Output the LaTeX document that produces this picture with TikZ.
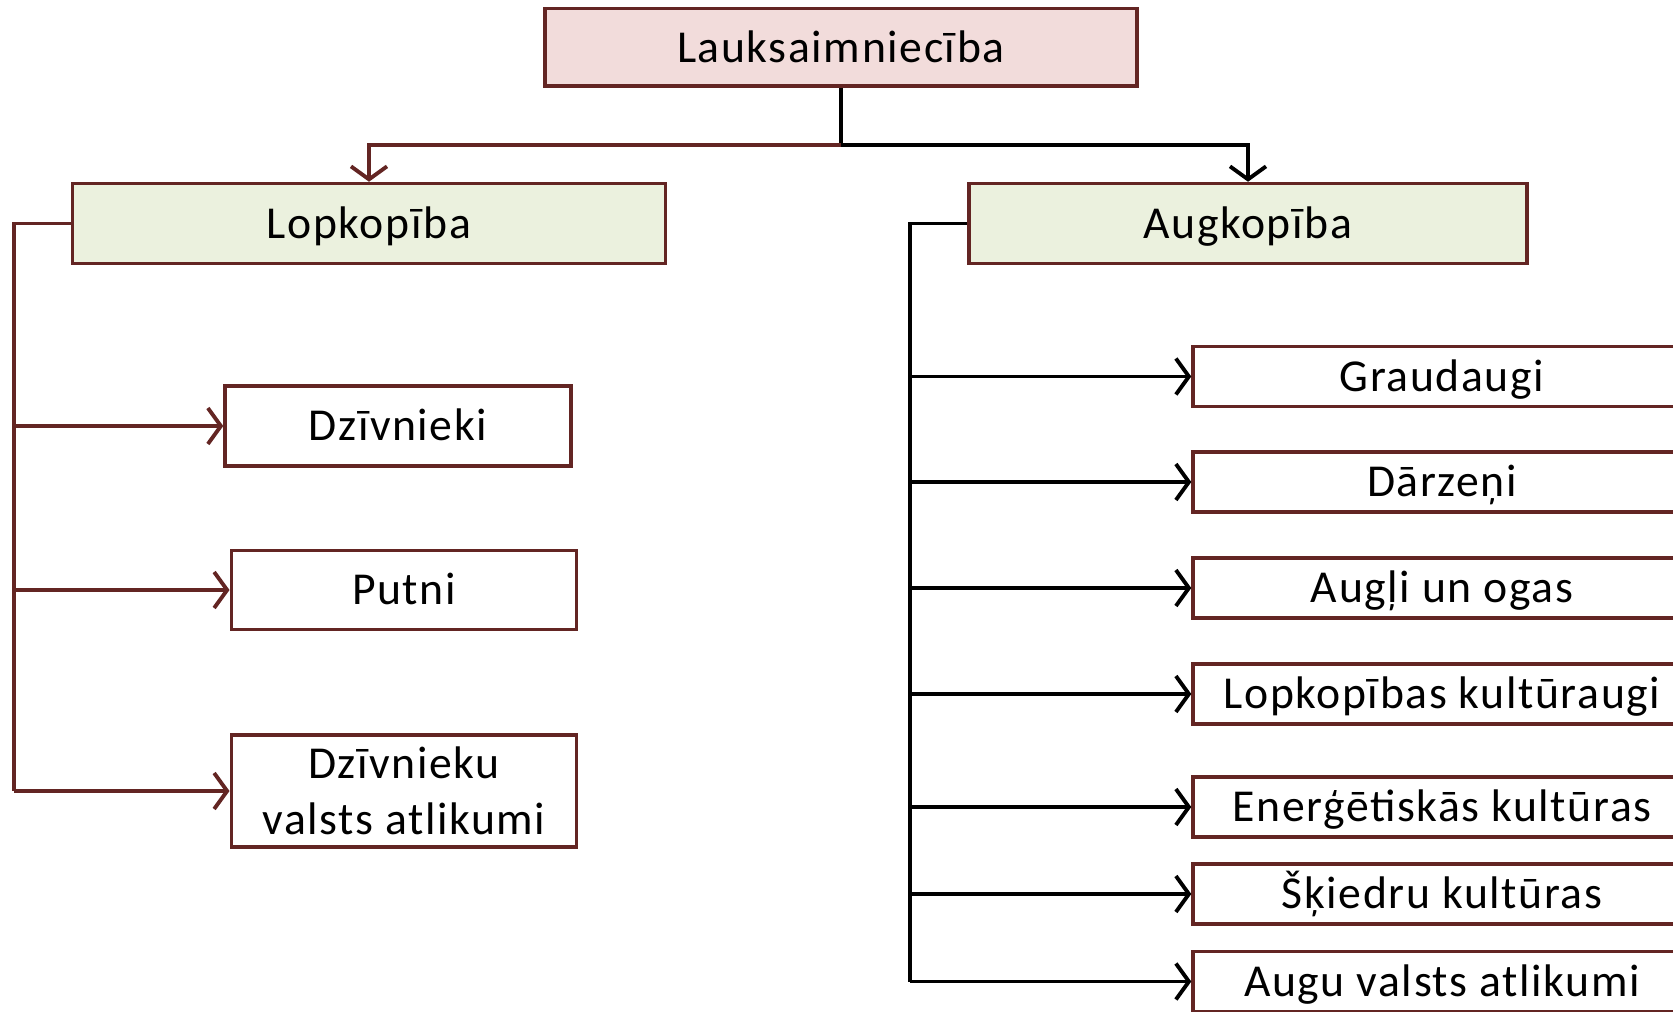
\documentclass[tikz,border=0pt]{standalone}
\usepackage{fontspec}
\setmainfont[LetterSpace=3.5]{Carlito}
\usepackage{xcolor}
\usepackage{tikz}
\usetikzlibrary{arrows.meta}
\usetikzlibrary{positioning,calc}

\definecolor{brn}{HTML}{632523}
\definecolor{rosefill}{HTML}{F2DCDB}
\definecolor{leaffill}{HTML}{EBF1DE}

\begin{document}
\begin{tikzpicture}[x=0.02cm,y=-0.02cm,
    box/.style={rectangle,draw=brn,line width=2pt,inner sep=0pt,align=center,
      font=\fontsize{26}{32}\selectfont},
    oneline/.style={box,text height=22pt,text depth=5pt},
    conn/.style={line width=2.2pt,-{Straight Barb[length=0.26cm,width=0.72cm]}},
    brnline/.style={draw=brn,line width=2.2pt},
    blkline/.style={draw=black,line width=2.2pt}]
  \useasboundingbox (0,0) rectangle (1673,1011);
  \node[oneline,fill=rosefill,minimum width=11.84cm,minimum height=1.55cm] (root) at (841,47.25) {Lauksaimniecība};
  \node[oneline,fill=leaffill,minimum width=11.87cm,minimum height=1.6cm] (lop) at (369,223.5) {Lopkopība};
  \node[oneline,fill=leaffill,minimum width=11.16cm,minimum height=1.6cm] (aug) at (1248,223.5) {Augkopība};
  %%% root to the two branches
  \coordinate (split) at ([yshift=-1.14cm]root.south);
  \draw[blkline] (root.south) -- (split);
  \draw[blkline,conn] (split) -| (aug.north);
  \draw[brnline,conn,draw=brn] (split) -| (lop.north);
  %%% animal side
  \node[oneline,minimum width=6.92cm,minimum height=1.6cm] (l_1) at (398,426) {Dzīvnieki};
  \node[oneline,minimum width=6.91cm,minimum height=1.58cm] (l_2) at (404,590) {Putni};
  \node[box,minimum width=6.91cm,minimum height=2.24cm] (l_3) at (404,791) {Dzīvnieku\\valsts atlikumi};
  \coordinate (lbus) at ([xshift=-1.13cm]lop.west);
  \draw[brnline] (lop.west) -- (lbus) -- (lbus |- l_3);
  \foreach \i in {1,2,3}{
    \draw[brnline,conn,draw=brn] (lbus |- l_\i) -- (l_\i.west);
  }
  %%% crop side
  \coordinate (rbus) at ([xshift=-1.14cm]aug.west);
  \foreach \i/\y/\t in {1/376.5/Graudaugi,2/482/Dārzeņi,3/588/Augļi un ogas,
      4/694/Lopkopības kultūraugi,5/807/Enerģētiskās kultūras,
      6/894/Šķiedru kultūras,7/981.5/Augu valsts atlikumi}{
    \node[oneline,minimum width=9.96cm,minimum height=1.2cm] (r_\i) at (1442,\y) {\t};
    \draw[blkline,conn] (rbus |- r_\i) -- (r_\i.west);
  }
  \draw[blkline] (aug.west) -- (rbus) -- (rbus |- r_7);
\end{tikzpicture}
\end{document}
